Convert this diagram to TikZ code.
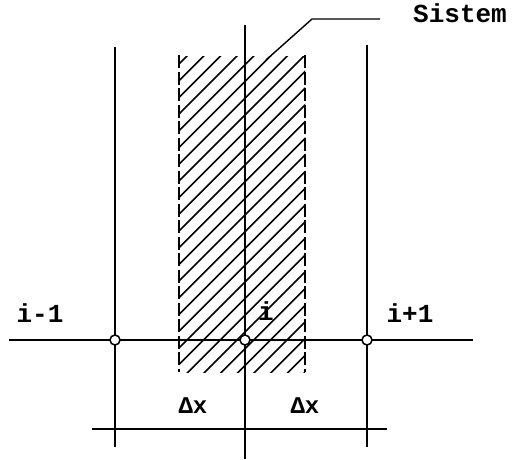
\documentclass[tikz,border=0pt]{standalone}
\usepackage{fontspec}
\newfontfamily\tw{Liberation Mono}
\begin{document}
\begin{tikzpicture}[x=1pt,y=-1pt,
  grid/.style={line width=1.5pt},
  hatchline/.style={line width=1.6pt},
  border/.style={line width=1.7pt, dash pattern=on 13pt off 3.5pt},
  nodept/.style={circle, draw, fill=white, line width=1.5pt, minimum size=10pt, inner sep=0pt},
  lab/.style={font=\tw\bfseries\fontsize{26}{26}\selectfont, inner sep=0pt, anchor=base},
  dlab/.style={font=\tw\bfseries\fontsize{24}{24}\selectfont, inner sep=0pt, anchor=base}]
\useasboundingbox (0,0) rectangle (512,459);
% coordinates
\coordinate (Lt) at (115,47);  \coordinate (Lb) at (115,447);
\coordinate (Ct) at (245,25);  \coordinate (Cb) at (245,459);
\coordinate (Rt) at (367,45);  \coordinate (Rb) at (367,447);
\coordinate (Hl) at (9,340);   \coordinate (Hr) at (473,340);
\coordinate (Dl) at (92,429);  \coordinate (Dr) at (387,429);
\coordinate (SLt) at (179,55); \coordinate (SLb) at (179,372);
\coordinate (SRt) at (305,55); \coordinate (SRb) at (305,372);
\coordinate (K0) at (266,60);  \coordinate (K1) at (312,19); \coordinate (K2) at (380,19);
% hatching
\begin{scope}
\clip (179,56) rectangle (305,372);
\foreach \c in {0,1,...,27}{
  \draw[hatchline] (179,{64+16.7*\c}) -- ++(140,-140);
}
\end{scope}
% dashed borders
\draw[border] (SLt) -- (SLb);
\draw[border] (SRt) -- (SRb);
% grid lines
\draw[grid] (Lt) -- (Lb);
\draw[grid] (Ct) -- (Cb);
\draw[grid] (Rt) -- (Rb);
\draw[grid] (Hl) -- (Hr);
\draw[grid] (Dl) -- (Dr);
% leader
\draw[line width=1.4pt] (K0) -- (K1) -- (K2);
% points
\node[nodept] (n1) at (115,340) {};
\node[nodept] (n2) at (245,340) {};
\node[nodept] (n3) at (367,340) {};
% labels
\node[lab] (l1) at (40,322) {i-1};
\node[lab] (l2) at (266,320) {i};
\node[lab] (l3) at (410,322) {i+1};
\node[dlab] (d1) at (193,413) {Δx};
\node[dlab] (d2) at (305,413) {Δx};
\node[lab, anchor=base west] (s) at (413,22) {Sistem};
\end{tikzpicture}
\end{document}
